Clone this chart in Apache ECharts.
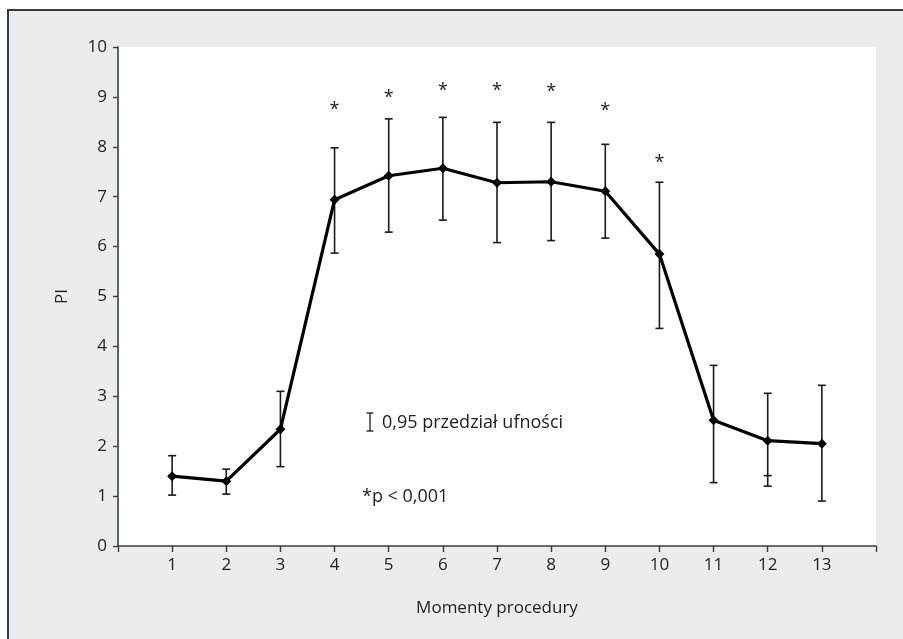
<!DOCTYPE html>
<html>
<head>
<meta charset="utf-8">
<script src="https://cdn.jsdelivr.net/npm/echarts@6/dist/echarts.min.js"></script>
<style>
  html, body { margin: 0; padding: 0; background: #ffffff; }
  #frame { position: absolute; left: 7px; top: 9px; width: 896px; height: 630px;
           background: #ebeced; border-top: 2px solid #3a3a3a; border-left: 2px solid #3a3a3a; box-sizing: border-box; }
  #chart { position: absolute; left: 0; top: 0; width: 903px; height: 639px; }
</style>
</head>
<body>
<div id="frame"></div>
<div id="chart"></div>
<script>
// ---- data ----
const categories = [1, 2, 3, 4, 5, 6, 7, 8, 9, 10, 11, 12, 13];
const means  = [1.40, 1.30, 2.34, 6.94, 7.42, 7.57, 7.28, 7.30, 7.11, 5.85, 2.52, 2.11, 2.05];
const ciLow  = [1.02, 1.04, 1.59, 5.87, 6.29, 6.53, 6.08, 6.12, 6.17, 4.36, 1.27, 1.20, 0.90];
const ciHigh = [1.81, 1.54, 3.10, 7.98, 8.56, 8.59, 8.49, 8.49, 8.05, 7.29, 3.62, 3.06, 3.22];
const starY  = [null, null, null, 8.83, 9.06, 9.20, 9.20, 9.18, 8.80, 7.76, null, null, null];
const extraCapX = [12];
const extraCapY = [1.41];
const yTicks = [0, 1, 2, 3, 4, 5, 6, 7, 8, 9, 10];
const xAxisTitle = 'Momenty procedury';
const yAxisTitle = 'PI';
const legendText = '0,95 przedział ufności';
const noteText = '*p < 0,001';

const FONT = '"Open Sans", "Noto Sans", sans-serif';
const TXT = '#1e1e1e';

const lineData = categories.map((c, i) => [c, means[i]]);
const errData = categories.map((c, i) => [c, ciLow[i], ciHigh[i]]);
const starData = categories.map((c, i) => [c, starY[i]]).filter(d => d[1] !== null);
const capData = extraCapX.map((c, i) => [c, extraCapY[i]]);

const chart = echarts.init(document.getElementById('chart'), null, { renderer: 'canvas' });

const option = {
  animation: false,
  backgroundColor: 'transparent',
  grid: { left: 118, right: 27, top: 47, bottom: 93, show: true, backgroundColor: '#ffffff', borderWidth: 0 },
  xAxis: {
    type: 'value', min: 0, max: 14, interval: 1,
    name: xAxisTitle, nameLocation: 'middle', nameGap: 54,
    nameTextStyle: { fontFamily: FONT, fontSize: 17, color: TXT },
    axisLine: { show: true, lineStyle: { color: '#3c3c3c', width: 1.6 } },
    axisTick: { show: true, inside: false, length: 6, lineStyle: { color: '#3c3c3c', width: 1.4 } },
    axisLabel: { fontFamily: FONT, fontSize: 17, color: TXT, margin: 11,
      formatter: v => (v >= 1 && v <= 13) ? String(v) : '' },
    splitLine: { show: false }
  },
  yAxis: {
    type: 'value', min: yTicks[0], max: yTicks[yTicks.length - 1], interval: 1,
    name: yAxisTitle, nameLocation: 'middle', nameGap: 47, nameRotate: 90,
    nameTextStyle: { fontFamily: FONT, fontSize: 17, color: TXT },
    axisLine: { show: true, lineStyle: { color: '#3c3c3c', width: 1.6 } },
    axisTick: { show: true, inside: false, length: 5, lineStyle: { color: '#3c3c3c', width: 1.4 } },
    axisLabel: { fontFamily: FONT, fontSize: 17, color: TXT, margin: 11 },
    splitLine: { show: false }
  },
  series: [
    {
      type: 'custom',
      name: 'ci',
      data: errData,
      z: 2,
      renderItem: function (params, api) {
        const x = api.value(0);
        const lo = api.coord([x, api.value(1)]);
        const hi = api.coord([x, api.value(2)]);
        const w = 4;
        const st = { stroke: '#1a1a1a', lineWidth: 1.6 };
        return {
          type: 'group',
          children: [
            { type: 'line', shape: { x1: lo[0], y1: lo[1], x2: hi[0], y2: hi[1] }, style: st },
            { type: 'line', shape: { x1: lo[0] - w, y1: lo[1], x2: lo[0] + w, y2: lo[1] }, style: st },
            { type: 'line', shape: { x1: hi[0] - w, y1: hi[1], x2: hi[0] + w, y2: hi[1] }, style: st }
          ]
        };
      }
    },
    {
      type: 'custom',
      name: 'extraCap',
      data: capData,
      z: 2,
      renderItem: function (params, api) {
        const p = api.coord([api.value(0), api.value(1)]);
        return { type: 'line', shape: { x1: p[0] - 4, y1: p[1], x2: p[0] + 4, y2: p[1] },
                 style: { stroke: '#1a1a1a', lineWidth: 1.6 } };
      }
    },
    {
      type: 'line',
      name: 'PI',
      data: lineData,
      z: 3,
      symbol: 'diamond',
      symbolSize: 10,
      showAllSymbol: true,
      lineStyle: { color: '#000000', width: 3.2 },
      itemStyle: { color: '#000000' }
    },
    {
      type: 'custom',
      name: 'stars',
      data: starData,
      z: 3,
      renderItem: function (params, api) {
        const p = api.coord([api.value(0), api.value(1)]);
        return { type: 'text', x: p[0], y: p[1] + 4,
                 style: { text: '*', fontFamily: FONT, fontSize: 18, fill: TXT, align: 'center', verticalAlign: 'middle' } };
      }
    }
  ],
  graphic: [
    { type: 'line', shape: { x1: 370, y1: 413, x2: 370, y2: 431 }, style: { stroke: '#1a1a1a', lineWidth: 1.3 } },
    { type: 'line', shape: { x1: 366.5, y1: 413, x2: 373.5, y2: 413 }, style: { stroke: '#1a1a1a', lineWidth: 1.3 } },
    { type: 'line', shape: { x1: 366.5, y1: 431, x2: 373.5, y2: 431 }, style: { stroke: '#1a1a1a', lineWidth: 1.3 } },
    { type: 'text', x: 382, y: 423, style: { text: legendText, fontFamily: FONT, fontSize: 18, fill: TXT, verticalAlign: 'middle' } },
    { type: 'text', x: 362, y: 497, style: { text: noteText, fontFamily: FONT, fontSize: 18, fill: TXT, verticalAlign: 'middle' } }
  ]
};
chart.setOption(option);
</script>
</body>
</html>
